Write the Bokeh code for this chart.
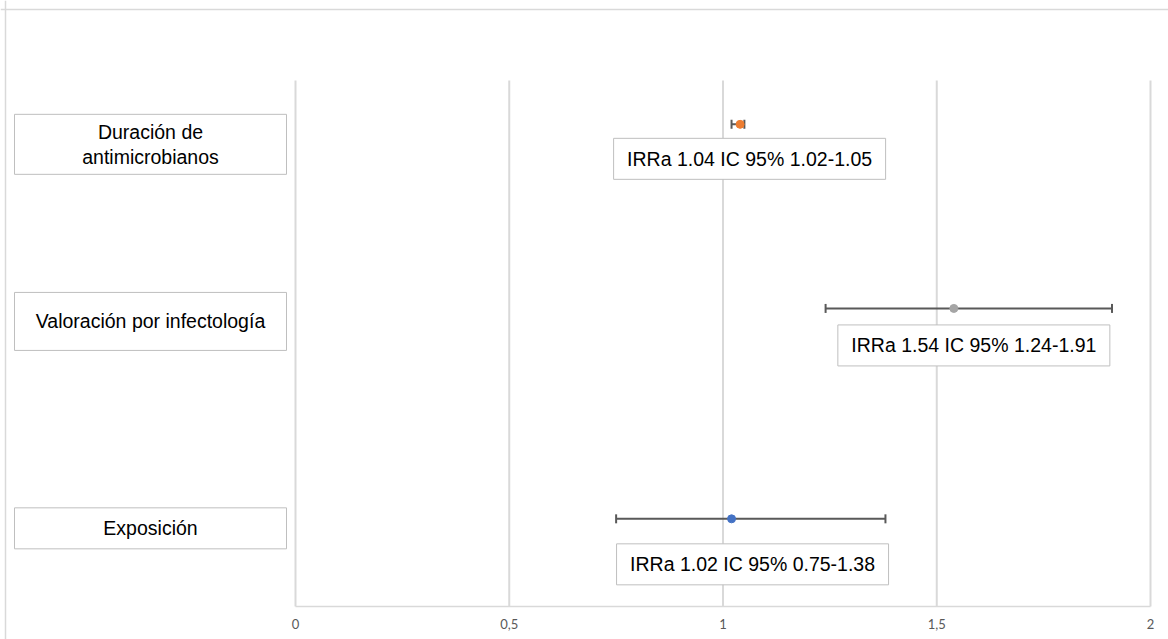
from bokeh.plotting import figure
from bokeh.models import ColumnDataSource, Whisker, TeeHead, Span, Range1d, LinearAxis, FixedTicker
from bokeh.core.properties import value
from bokeh.embed import file_html
from bokeh.resources import INLINE

# ---------------- data ----------------
categories = ["Duración de\nantimicrobianos", "Valoración por infectología", "Exposición"]
row_pos = [5.5, 3.4, 1.0]          # vertical position of each row (chart units, axis 0..6)
irr = [1.04, 1.54, 1.02]
ci_low = [1.02, 1.24, 0.75]
ci_high = [1.05, 1.91, 1.38]
point_colors = ["#ED7D31", "#A5A5A5", "#4472C4"]
x_ticks = [0, 0.5, 1, 1.5, 2]
x_tick_labels = ["0", "0,5", "1", "1,5", "2"]
Y_MAX = 6
irr_labels = [f"IRRa {a:.2f} IC 95% {l:.2f}-{h:.2f}" for a, l, h in zip(irr, ci_low, ci_high)]

# ---------------- layout (pixels) ----------------
W, H = 1168, 639
X0_PX, X_SCALE = 295, 427.5        # canvas px of x=0, px per unit
Y0_PX, Y_SCALE = 606, 526 / Y_MAX  # canvas px (from top) of y=0, px per unit
x_start = -X0_PX / X_SCALE
x_end = (W - X0_PX) / X_SCALE
y_end = Y0_PX / Y_SCALE
y_start = (Y0_PX - H) / Y_SCALE

# row-label boxes (left)
cat_box_cx_px = 150
cat_box_w = 272
cat_box_h = [60, 58, 41]
cat_box_dy = [20, 13, 9.5]
# value-label boxes
lab_box_w, lab_box_h = 272, 41
lab_dx = [9.5, 20, 21]
lab_dy = [34.5, 37, 45.5]

FONT = "Liberation Sans"
GRID = "#D9D9D9"

p = figure(width=W, height=H, output_backend="svg", toolbar_location=None,
           x_range=Range1d(x_start, x_end), y_range=Range1d(y_start, y_end),
           x_axis_location=None, y_axis_location=None, min_border=0,
           outline_line_color=None, background_fill_color="white", border_fill_color="white")
p.xgrid.visible = False
p.ygrid.visible = False

# outer chart border (top and left edges visible)
p.add_layout(Span(location=y_end - 9 / Y_SCALE, dimension="width", line_color=GRID, line_width=1.5))
p.add_layout(Span(location=x_start + 5 / X_SCALE, dimension="height", line_color=GRID, line_width=1.5))

# vertical gridlines from 0 to Y_MAX
g = p.segment(x0=x_ticks, y0=[0] * len(x_ticks), x1=x_ticks, y1=[Y_MAX] * len(x_ticks),
              line_color=GRID, line_width=2)
g.level = "underlay"

# x axis at y=0
xaxis = LinearAxis(fixed_location=0, ticker=FixedTicker(ticks=x_ticks), bounds=(0, 2))
xaxis.major_label_overrides = {t: l for t, l in zip(x_ticks, x_tick_labels)}
xaxis.axis_line_color = GRID
xaxis.axis_line_width = 1.5
xaxis.major_tick_line_color = None
xaxis.minor_tick_line_color = None
xaxis.major_tick_in = 0
xaxis.major_tick_out = 0
xaxis.major_label_standoff = 12
xaxis.major_label_text_font = "Lato"
xaxis.major_label_text_font_size = "13px"
xaxis.major_label_text_color = "#595959"
p.add_layout(xaxis, "below")

# left category boxes
cat_src = ColumnDataSource(dict(
    x=[x_start + cat_box_cx_px / X_SCALE] * len(categories),
    y=[r - d / Y_SCALE for r, d in zip(row_pos, cat_box_dy)],
    h=cat_box_h, text=categories))
p.rect(x="x", y="y", width=cat_box_w, height="h", width_units="screen", height_units="screen",
       source=cat_src, fill_color="white", line_color="#BFBFBF", line_width=1)
p.text(x="x", y="y", text="text", source=cat_src, text_align="center", text_baseline="middle",
       text_font=value(FONT), text_font_size="19.5px", text_color="#000000", text_line_height=1.15)

# error bars (drawn beneath points, above gridlines)
src = ColumnDataSource(dict(y=row_pos, x=irr, lo=ci_low, hi=ci_high, color=point_colors))
wh = Whisker(source=src, base="y", lower="lo", upper="hi", dimension="width",
             line_color="#595959", line_width=2,
             upper_head=TeeHead(size=9, line_color="#595959", line_width=2),
             lower_head=TeeHead(size=9, line_color="#595959", line_width=2))
wh.level = "underlay"
p.add_layout(wh)
p.scatter(x="x", y="y", source=src, size=8, fill_color="color", line_color="color", marker="circle")

# value label boxes
lab_src = ColumnDataSource(dict(
    x=[v + dx / X_SCALE for v, dx in zip(irr, lab_dx)],
    y=[r - dy / Y_SCALE for r, dy in zip(row_pos, lab_dy)],
    text=irr_labels))
p.rect(x="x", y="y", width=lab_box_w, height=lab_box_h, width_units="screen", height_units="screen",
       source=lab_src, fill_color="white", line_color="#BFBFBF", line_width=1)
p.text(x="x", y="y", text="text", source=lab_src, text_align="center", text_baseline="middle",
       text_font=value(FONT), text_font_size="19.5px", text_color="#000000")

open("out.html", "w").write(file_html(p, INLINE))
